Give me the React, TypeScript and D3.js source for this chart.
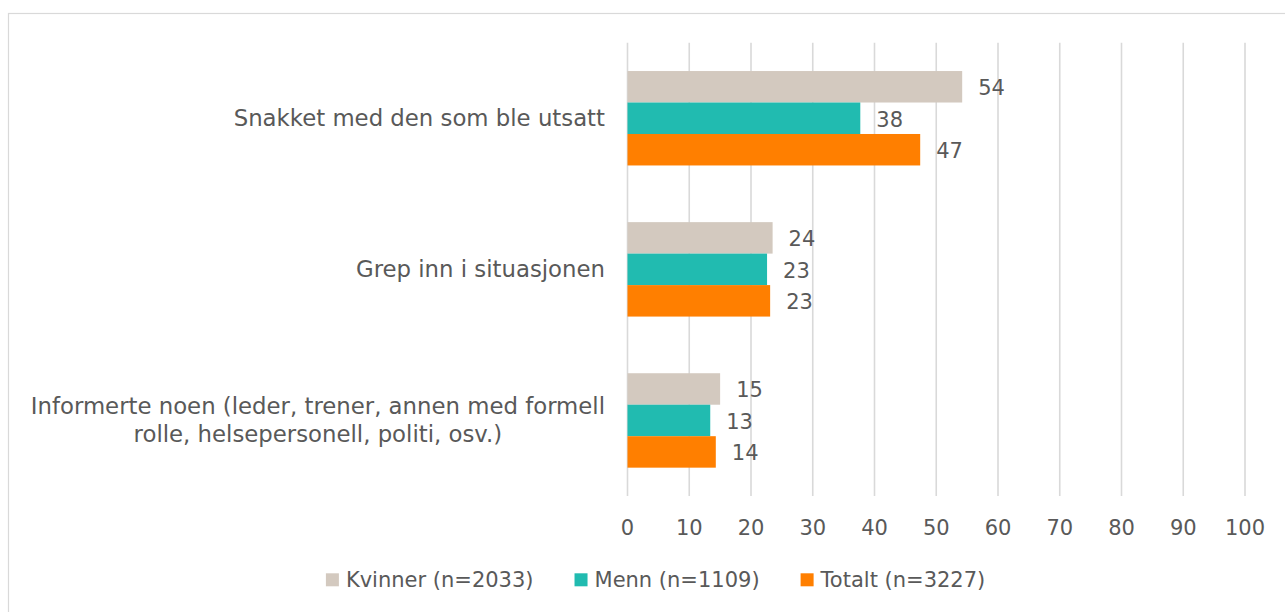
import * as d3 from "d3";
import { useEffect, useRef } from "react";

// categories (top to bottom) and series
const categories = [
  "Snakket med den som ble utsatt",
  "Grep inn i situasjonen",
  "Informerte noen (leder, trener, annen med formell|rolle, helsepersonell, politi, osv.)",
];
const seriesNames = ["Kvinner (n=2033)", "Menn (n=1109)", "Totalt (n=3227)"];
const kvinner = [54.2, 23.5, 15.0];
const menn = [37.7, 22.6, 13.4];
const totalt = [47.4, 23.1, 14.3];
const xTicks = [0, 10, 20, 30, 40, 50, 60, 70, 80, 90, 100];

const colors = ["#d3c9bf", "#21bbb0", "#ff7f00"];
const textColor = "#595959";
const font = "'Century Gothic', 'DejaVu Sans', sans-serif";

const W = 1285;
const H = 612;

const App = () => {
  const svgRef = useRef<SVGSVGElement | null>(null);

  useEffect(() => {
    if (!svgRef.current) return;
    const svg = d3.select(svgRef.current);
    svg.selectAll("*").remove();

    const series = [kvinner, menn, totalt];
    const rows = categories.map((c, i) => ({
      cat: c,
      vals: series.map((s, j) => ({ key: seriesNames[j], value: s[i], idx: j })),
    }));

    const x = d3.scaleLinear().domain([0, 100]).range([627.5, 1245]);
    const y0 = d3.scaleBand<string>()
      .domain(categories)
      .range([42.7, 496])
      .paddingInner(0.375)
      .paddingOuter(0.1875);
    const y1 = d3.scaleBand<string>()
      .domain(seriesNames)
      .range([0, y0.bandwidth()]);

    // chart frame
    svg.append("rect")
      .attr("x", 8.5).attr("y", 13.5)
      .attr("width", 1400).attr("height", 800)
      .attr("fill", "#fff")
      .attr("stroke", "#d9d9d9")
      .attr("stroke-width", 1.2);

    // gridlines
    svg.append("g")
      .selectAll("line")
      .data(xTicks)
      .join("line")
      .attr("x1", d => x(d)).attr("x2", d => x(d))
      .attr("y1", 42.7).attr("y2", 496)
      .attr("stroke", "#d9d9d9")
      .attr("stroke-width", 1.6);

    // tick labels
    svg.append("g")
      .selectAll("text")
      .data(xTicks)
      .join("text")
      .attr("x", d => x(d))
      .attr("y", 535)
      .attr("text-anchor", "middle")
      .attr("font-family", font)
      .attr("font-size", 21)
      .attr("fill", textColor)
      .text(d => d);

    // bars
    const groups = svg.append("g")
      .selectAll("g")
      .data(rows)
      .join("g")
      .attr("transform", d => `translate(0,${y0(d.cat)})`);

    groups.selectAll("rect")
      .data(d => d.vals)
      .join("rect")
      .attr("x", x(0))
      .attr("y", d => y1(d.key)!)
      .attr("width", d => x(d.value) - x(0))
      .attr("height", y1.bandwidth())
      .attr("fill", d => colors[d.idx]);

    groups.selectAll("text")
      .data(d => d.vals)
      .join("text")
      .attr("x", d => x(d.value) + 16)
      .attr("y", d => y1(d.key)! + y1.bandwidth() / 2 + 1.5)
      .attr("dominant-baseline", "central")
      .attr("font-family", font)
      .attr("font-size", 21)
      .attr("fill", textColor)
      .text(d => d3.format(".0f")(d.value));

    // category labels, right aligned block, lines centred within it
    const catG = svg.append("g");
    rows.forEach(r => {
      const lines = r.cat.split("|");
      const cy = y0(r.cat)! + y0.bandwidth() / 2;
      const t = catG.append("text")
        .attr("font-family", font)
        .attr("font-size", 22.8)
        .attr("fill", textColor)
        .attr("text-anchor", "middle");
      let wMax = 0;
      lines.forEach((l, i) => {
        const ts = t.append("tspan")
          .attr("x", 0)
          .attr("y", cy + (i - (lines.length - 1) / 2) * 28)
          .attr("dominant-baseline", "central")
          .text(l);
        wMax = Math.max(wMax, (ts.node() as SVGTSpanElement).getComputedTextLength());
      });
      t.selectAll("tspan").attr("x", 605 - wMax / 2);
    });

    // legend
    const leg = svg.append("g");
    let cx = 0;
    seriesNames.forEach((n, i) => {
      const item = leg.append("g").attr("transform", `translate(${cx},0)`);
      item.append("rect")
        .attr("x", 0).attr("y", 573.3)
        .attr("width", 13).attr("height", 13)
        .attr("fill", colors[i]);
      const t = item.append("text")
        .attr("x", 20).attr("y", 580)
        .attr("dominant-baseline", "central")
        .attr("font-family", font)
        .attr("font-size", 21)
        .attr("fill", textColor)
        .text(n);
      const tw = (t.node() as SVGTextElement).getComputedTextLength();
      cx += 20 + tw + 41;
    });
    const legW = cx - 41;
    leg.attr("transform", `translate(${655.6 - legW / 2},0)`);
  }, []);

  return (
    <svg
      ref={svgRef}
      width={W}
      height={H}
      style={{ position: "absolute", left: 0, top: 0, display: "block", background: "#fff" }}
    ></svg>
  );
};

export default App;
